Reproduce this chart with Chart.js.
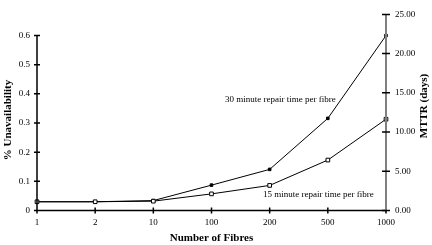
<!DOCTYPE html>
<html>
<head>
<meta charset="utf-8">
<script src="https://cdn.jsdelivr.net/npm/chart.js@4/dist/chart.umd.min.js"></script>
<style>
  html, body { margin: 0; padding: 0; background: #fff; }
  #wrap { width: 432px; height: 245px; }
</style>
</head>
<body>
<div id="wrap"><canvas id="my-chart"></canvas></div>
<script>
const fibres = ['1', '2', '10', '100', '200', '500', '1000'];
const repair30 = [0.030, 0.030, 0.034, 0.087, 0.141, 0.316, 0.600];
const repair15 = [0.030, 0.030, 0.032, 0.057, 0.086, 0.173, 0.313];
const leftTicks = [0, 0.1, 0.2, 0.3, 0.4, 0.5, 0.6];
const rightTicks = [0, 5, 10, 15, 20, 25];

const serif = 'Liberation Serif';

// axis lines and cross ticks, plus the titles and notes
const decor = {
  id: 'decor',
  afterDraw(chart) {
    const ctx = chart.ctx;
    const x = chart.scales.x, y = chart.scales.y, y2 = chart.scales.y2;
    const bottom = y.getPixelForValue(0);
    ctx.save();
    ctx.strokeStyle = '#000';
    ctx.lineWidth = 1.5;
    // x axis
    ctx.beginPath();
    ctx.moveTo(x.left, bottom); ctx.lineTo(x.right, bottom);
    fibres.forEach((f, i) => {
      const px = x.getPixelForValue(i);
      ctx.moveTo(px, bottom - 3); ctx.lineTo(px, bottom + 3);
    });
    // left axis
    ctx.moveTo(x.left, y.getPixelForValue(0.6)); ctx.lineTo(x.left, bottom);
    leftTicks.forEach(v => {
      const py = y.getPixelForValue(v);
      ctx.moveTo(x.left - 3, py); ctx.lineTo(x.left + 3, py);
    });
    ctx.stroke();
    // right axis (grey)
    ctx.beginPath();
    ctx.strokeStyle = '#808080';
    ctx.lineWidth = 2;
    ctx.moveTo(x.right, y2.getPixelForValue(25)); ctx.lineTo(x.right, bottom);
    ctx.stroke();
    ctx.beginPath();
    ctx.strokeStyle = '#000';
    ctx.lineWidth = 1.5;
    rightTicks.forEach(v => {
      const py = y2.getPixelForValue(v);
      ctx.moveTo(x.right - 4, py); ctx.lineTo(x.right + 4, py);
    });
    ctx.stroke();

    ctx.fillStyle = '#000';
    ctx.textBaseline = 'middle';
    ctx.textAlign = 'center';
    ctx.font = 'bold 11px "' + serif + '"';
    ctx.fillText('Number of Fibres', (x.left + x.right) / 2, 238);
    ctx.save();
    ctx.translate(8, 120);
    ctx.rotate(-Math.PI / 2);
    ctx.fillText('% Unavailability', 0, 0);
    ctx.restore();
    ctx.save();
    ctx.translate(424, 106);
    ctx.rotate(-Math.PI / 2);
    ctx.fillText('MTTR (days)', 0, 0);
    ctx.restore();

    ctx.textAlign = 'left';
    ctx.font = '9px "' + serif + '"';
    ctx.fillText('30 minute repair time per fibre', 225, 100);
    ctx.fillText('15 minute repair time per fibre', 263, 195);
    ctx.restore();
  }
};

new Chart(document.getElementById('my-chart'), {
  type: 'line',
  data: {
    labels: fibres,
    datasets: [{
      label: '30 minute repair time per fibre',
      data: repair30,
      yAxisID: 'y',
      order: 1,
      borderColor: '#000',
      borderWidth: 1,
      pointStyle: 'rect',
      pointRadius: 1.8,
      pointBackgroundColor: '#000',
      pointBorderColor: '#000',
      pointBorderWidth: 1,
      tension: 0
    }, {
      label: '15 minute repair time per fibre',
      data: repair15,
      yAxisID: 'y',
      order: 0,
      borderColor: '#000',
      borderWidth: 1,
      pointStyle: 'rect',
      pointRadius: 2.6,
      pointBackgroundColor: '#fff',
      pointBorderColor: '#000',
      pointBorderWidth: 1,
      tension: 0
    }]
  },
  plugins: [decor],
  options: {
    responsive: true,
    maintainAspectRatio: false,
    animation: false,
    layout: { padding: { top: 10, left: 0, right: 0, bottom: 0 } },
    plugins: {
      legend: { display: false },
      tooltip: { enabled: false }
    },
    scales: {
      x: {
        offset: false,
        grid: { display: false, drawTicks: false },
        border: { display: false },
        afterFit: s => { s.height = 34.5; },
        ticks: {
          padding: 7,
          color: '#000',
          maxRotation: 0,
          font: { family: serif, size: 9 }
        }
      },
      y: {
        position: 'left',
        min: 0,
        max: 0.6725,
        grid: { display: false, drawTicks: false },
        border: { display: false },
        afterFit: s => { s.width = 37; },
        afterBuildTicks: s => { s.ticks = leftTicks.map(v => ({ value: v })); },
        ticks: {
          padding: 7,
          color: '#000',
          font: { family: serif, size: 9 },
          callback: v => String(Math.round(v * 10) / 10)
        }
      },
      y2: {
        position: 'right',
        min: 0,
        max: 25,
        grid: { display: false, drawTicks: false },
        border: { display: false },
        afterFit: s => { s.width = 46; },
        afterBuildTicks: s => { s.ticks = rightTicks.map(v => ({ value: v })); },
        ticks: {
          padding: 9,
          color: '#000',
          font: { family: serif, size: 9 },
          callback: v => v.toFixed(2)
        }
      }
    }
  }
});
</script>
</body>
</html>
